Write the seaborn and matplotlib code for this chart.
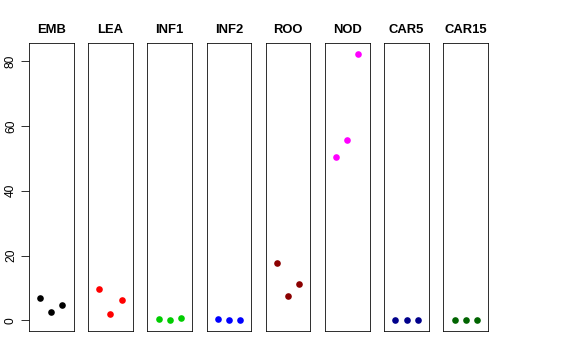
import matplotlib
matplotlib.use("Agg")
import matplotlib.pyplot as plt
import seaborn as sns
import pandas as pd

sns.set_style("white")
plt.rcParams['font.family'] = ['Liberation Sans', 'DejaVu Sans']
plt.rcParams['text.color'] = 'black'
plt.rcParams['axes.labelcolor'] = 'black'
plt.rcParams['ytick.color'] = 'black'

tissues = ["EMB", "LEA", "INF1", "INF2", "ROO", "NOD", "CAR5", "CAR15"]
colors = ["#000000", "#FF0000", "#00CD00", "#0000FF", "#8B0000", "#FF00FF", "#00008B", "#006400"]
replicate = [1, 2, 3]
emb = [6.9, 2.6, 4.6]
lea = [9.75, 2.0, 6.4]
inf1 = [0.35, 0.15, 0.7]
inf2 = [0.4, 0.15, 0.15]
roo = [17.8, 7.6, 11.3]
nod = [50.5, 55.8, 82.1]
car5 = [0.15, 0.15, 0.15]
car15 = [0.0, 0.0, 0.0]
values = [emb, lea, inf1, inf2, roo, nod, car5, car15]
yticks = [0, 20, 40, 60, 80]

fig, axes = plt.subplots(1, 8, figsize=(8, 5), dpi=72)
fig.subplots_adjust(left=29/576, right=488/576, top=1-43/360, bottom=1-331/360, wspace=0.33)

for i, (ax, name, col, vals) in enumerate(zip(axes, tissues, colors, values)):
    df = pd.DataFrame({"rep": replicate, "val": vals})
    sns.scatterplot(data=df, x="rep", y="val", ax=ax, color=col, s=44, linewidth=0, legend=False)
    ax.set_xlim(0, 4)
    ax.set_ylim(-3.3, 85.6)
    ax.set_xticks([])
    ax.set_xlabel("")
    ax.set_ylabel("")
    ax.set_title(name, fontsize=13, fontweight="bold", pad=10, color="black")
    for sp in ax.spines.values():
        sp.set_visible(True)
        sp.set_color("black")
        sp.set_linewidth(0.8)
    if i == 0:
        ax.set_yticks(yticks)
        ax.set_yticklabels([str(t) for t in yticks], rotation=90, va="center", fontsize=12, color="black")
        ax.tick_params(axis="y", left=True, length=8, width=0.8, pad=4, colors="black")
    else:
        ax.set_yticks([])

fig.savefig("out.png", dpi=72)
